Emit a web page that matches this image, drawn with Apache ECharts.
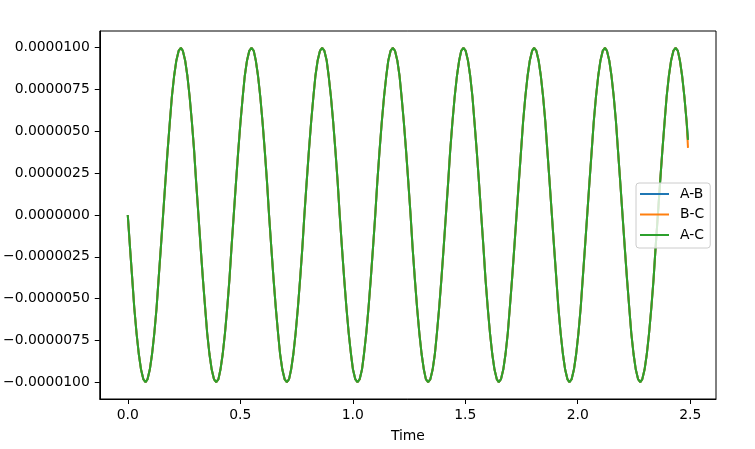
<!DOCTYPE html>
<html>
<head>
<meta charset="utf-8">
<script src="https://cdn.jsdelivr.net/npm/echarts@6/dist/echarts.min.js"></script>
<style>html,body{margin:0;padding:0;background:#fff}#c{width:755px;height:449px}</style>
</head>
<body>
<div id="c"></div>
<script>
const seriesNames = ['A-B', 'B-C', 'A-C'];
const xTicks = [0, 0.5, 1.0, 1.5, 2.0, 2.5];
const yTicks = [-1e-5, -7.5e-6, -5e-6, -2.5e-6, 0, 2.5e-6, 5e-6, 7.5e-6, 1e-5];

const time = [
0,0.010,0.020,0.029,0.039,0.049,0.059,0.069,0.079,0.088,0.098,0.108,0.118,0.128,0.137,0.147,0.157,0.167,0.177,0.187,0.196,0.206,0.216,0.226,0.236,0.245,0.255,0.265,0.275,0.285,0.295,0.304,
0.314,0.324,0.334,0.344,0.353,0.363,0.373,0.383,0.393,0.403,0.412,0.422,0.432,0.442,0.452,0.461,0.471,0.481,0.491,0.501,0.511,0.520,0.530,0.540,0.550,0.560,0.569,0.579,0.589,0.599,0.609,0.619,
0.628,0.638,0.648,0.658,0.668,0.677,0.687,0.697,0.707,0.717,0.726,0.736,0.746,0.756,0.766,0.776,0.785,0.795,0.805,0.815,0.825,0.834,0.844,0.854,0.864,0.874,0.884,0.893,0.903,0.913,0.923,0.933,
0.942,0.952,0.962,0.972,0.982,0.992,1.001,1.011,1.021,1.031,1.041,1.050,1.060,1.070,1.080,1.090,1.100,1.109,1.119,1.129,1.139,1.149,1.158,1.168,1.178,1.188,1.198,1.208,1.217,1.227,1.237,1.247,
1.257,1.266,1.276,1.286,1.296,1.306,1.316,1.325,1.335,1.345,1.355,1.365,1.374,1.384,1.394,1.404,1.414,1.424,1.433,1.443,1.453,1.463,1.473,1.482,1.492,1.502,1.512,1.522,1.532,1.541,1.551,1.561,
1.571,1.581,1.590,1.600,1.610,1.620,1.630,1.640,1.649,1.659,1.669,1.679,1.689,1.698,1.708,1.718,1.728,1.738,1.748,1.757,1.767,1.777,1.787,1.797,1.806,1.816,1.826,1.836,1.846,1.856,1.865,1.875,
1.885,1.895,1.905,1.914,1.924,1.934,1.944,1.954,1.963,1.973,1.983,1.993,2.003,2.013,2.022,2.032,2.042,2.052,2.062,2.071,2.081,2.091,2.101,2.111,2.121,2.130,2.140,2.150,2.160,2.170,2.179,2.189,
2.199,2.209,2.219,2.229,2.238,2.248,2.258,2.268,2.278,2.287,2.297,2.307,2.317,2.327,2.337,2.346,2.356,2.366,2.376,2.386,2.395,2.405,2.415,2.425,2.435,2.445,2.454,2.464,2.474,2.484,
2.490
];

const abValues = [
0,-1.95e-6,-3.83e-6,-5.56e-6,-7.07e-6,-8.31e-6,-9.24e-6,-9.81e-6,-1e-5,-9.81e-6,-9.24e-6,-8.31e-6,-7.07e-6,-5.56e-6,-3.83e-6,-1.95e-6,0,1.95e-6,3.83e-6,5.56e-6,7.07e-6,8.31e-6,9.24e-6,9.81e-6,1e-5,9.81e-6,9.24e-6,8.31e-6,7.07e-6,5.56e-6,3.83e-6,1.95e-6,
0,-1.95e-6,-3.83e-6,-5.56e-6,-7.07e-6,-8.31e-6,-9.24e-6,-9.81e-6,-1e-5,-9.81e-6,-9.24e-6,-8.31e-6,-7.07e-6,-5.56e-6,-3.83e-6,-1.95e-6,0,1.95e-6,3.83e-6,5.56e-6,7.07e-6,8.31e-6,9.24e-6,9.81e-6,1e-5,9.81e-6,9.24e-6,8.31e-6,7.07e-6,5.56e-6,3.83e-6,1.95e-6,
0,-1.95e-6,-3.83e-6,-5.56e-6,-7.07e-6,-8.31e-6,-9.24e-6,-9.81e-6,-1e-5,-9.81e-6,-9.24e-6,-8.31e-6,-7.07e-6,-5.56e-6,-3.83e-6,-1.95e-6,0,1.95e-6,3.83e-6,5.56e-6,7.07e-6,8.31e-6,9.24e-6,9.81e-6,1e-5,9.81e-6,9.24e-6,8.31e-6,7.07e-6,5.56e-6,3.83e-6,1.95e-6,
0,-1.95e-6,-3.83e-6,-5.56e-6,-7.07e-6,-8.31e-6,-9.24e-6,-9.81e-6,-1e-5,-9.81e-6,-9.24e-6,-8.31e-6,-7.07e-6,-5.56e-6,-3.83e-6,-1.95e-6,0,1.95e-6,3.83e-6,5.56e-6,7.07e-6,8.31e-6,9.24e-6,9.81e-6,1e-5,9.81e-6,9.24e-6,8.31e-6,7.07e-6,5.56e-6,3.83e-6,1.95e-6,
0,-1.95e-6,-3.83e-6,-5.56e-6,-7.07e-6,-8.31e-6,-9.24e-6,-9.81e-6,-1e-5,-9.81e-6,-9.24e-6,-8.31e-6,-7.07e-6,-5.56e-6,-3.83e-6,-1.95e-6,0,1.95e-6,3.83e-6,5.56e-6,7.07e-6,8.31e-6,9.24e-6,9.81e-6,1e-5,9.81e-6,9.24e-6,8.31e-6,7.07e-6,5.56e-6,3.83e-6,1.95e-6,
0,-1.95e-6,-3.83e-6,-5.56e-6,-7.07e-6,-8.31e-6,-9.24e-6,-9.81e-6,-1e-5,-9.81e-6,-9.24e-6,-8.31e-6,-7.07e-6,-5.56e-6,-3.83e-6,-1.95e-6,0,1.95e-6,3.83e-6,5.56e-6,7.07e-6,8.31e-6,9.24e-6,9.81e-6,1e-5,9.81e-6,9.24e-6,8.31e-6,7.07e-6,5.56e-6,3.83e-6,1.95e-6,
0,-1.95e-6,-3.83e-6,-5.56e-6,-7.07e-6,-8.31e-6,-9.24e-6,-9.81e-6,-1e-5,-9.81e-6,-9.24e-6,-8.31e-6,-7.07e-6,-5.56e-6,-3.83e-6,-1.95e-6,0,1.95e-6,3.83e-6,5.56e-6,7.07e-6,8.31e-6,9.24e-6,9.81e-6,1e-5,9.81e-6,9.24e-6,8.31e-6,7.07e-6,5.56e-6,3.83e-6,1.95e-6,
0,-1.95e-6,-3.83e-6,-5.56e-6,-7.07e-6,-8.31e-6,-9.24e-6,-9.81e-6,-1e-5,-9.81e-6,-9.24e-6,-8.31e-6,-7.07e-6,-5.56e-6,-3.83e-6,-1.95e-6,0,1.95e-6,3.83e-6,5.56e-6,7.07e-6,8.31e-6,9.24e-6,9.81e-6,1e-5,9.81e-6,9.24e-6,8.31e-6,7.07e-6,5.56e-6,
4.49e-6
];

const bcValues = [
0,-1.95e-6,-3.83e-6,-5.56e-6,-7.07e-6,-8.31e-6,-9.24e-6,-9.81e-6,-1e-5,-9.81e-6,-9.24e-6,-8.31e-6,-7.07e-6,-5.56e-6,-3.83e-6,-1.95e-6,0,1.95e-6,3.83e-6,5.56e-6,7.07e-6,8.31e-6,9.24e-6,9.81e-6,1e-5,9.81e-6,9.24e-6,8.31e-6,7.07e-6,5.56e-6,3.83e-6,1.95e-6,
0,-1.95e-6,-3.83e-6,-5.56e-6,-7.07e-6,-8.31e-6,-9.24e-6,-9.81e-6,-1e-5,-9.81e-6,-9.24e-6,-8.31e-6,-7.07e-6,-5.56e-6,-3.83e-6,-1.95e-6,0,1.95e-6,3.83e-6,5.56e-6,7.07e-6,8.31e-6,9.24e-6,9.81e-6,1e-5,9.81e-6,9.24e-6,8.31e-6,7.07e-6,5.56e-6,3.83e-6,1.95e-6,
0,-1.95e-6,-3.83e-6,-5.56e-6,-7.07e-6,-8.31e-6,-9.24e-6,-9.81e-6,-1e-5,-9.81e-6,-9.24e-6,-8.31e-6,-7.07e-6,-5.56e-6,-3.83e-6,-1.95e-6,0,1.95e-6,3.83e-6,5.56e-6,7.07e-6,8.31e-6,9.24e-6,9.81e-6,1e-5,9.81e-6,9.24e-6,8.31e-6,7.07e-6,5.56e-6,3.83e-6,1.95e-6,
0,-1.95e-6,-3.83e-6,-5.56e-6,-7.07e-6,-8.31e-6,-9.24e-6,-9.81e-6,-1e-5,-9.81e-6,-9.24e-6,-8.31e-6,-7.07e-6,-5.56e-6,-3.83e-6,-1.95e-6,0,1.95e-6,3.83e-6,5.56e-6,7.07e-6,8.31e-6,9.24e-6,9.81e-6,1e-5,9.81e-6,9.24e-6,8.31e-6,7.07e-6,5.56e-6,3.83e-6,1.95e-6,
0,-1.95e-6,-3.83e-6,-5.56e-6,-7.07e-6,-8.31e-6,-9.24e-6,-9.81e-6,-1e-5,-9.81e-6,-9.24e-6,-8.31e-6,-7.07e-6,-5.56e-6,-3.83e-6,-1.95e-6,0,1.95e-6,3.83e-6,5.56e-6,7.07e-6,8.31e-6,9.24e-6,9.81e-6,1e-5,9.81e-6,9.24e-6,8.31e-6,7.07e-6,5.56e-6,3.83e-6,1.95e-6,
0,-1.95e-6,-3.83e-6,-5.56e-6,-7.07e-6,-8.31e-6,-9.24e-6,-9.81e-6,-1e-5,-9.81e-6,-9.24e-6,-8.31e-6,-7.07e-6,-5.56e-6,-3.83e-6,-1.95e-6,0,1.95e-6,3.83e-6,5.56e-6,7.07e-6,8.31e-6,9.24e-6,9.81e-6,1e-5,9.81e-6,9.24e-6,8.31e-6,7.07e-6,5.56e-6,3.83e-6,1.95e-6,
0,-1.95e-6,-3.83e-6,-5.56e-6,-7.07e-6,-8.31e-6,-9.24e-6,-9.81e-6,-1e-5,-9.81e-6,-9.24e-6,-8.31e-6,-7.07e-6,-5.56e-6,-3.83e-6,-1.95e-6,0,1.95e-6,3.83e-6,5.56e-6,7.07e-6,8.31e-6,9.24e-6,9.81e-6,1e-5,9.81e-6,9.24e-6,8.31e-6,7.07e-6,5.56e-6,3.83e-6,1.95e-6,
0,-1.95e-6,-3.83e-6,-5.56e-6,-7.07e-6,-8.31e-6,-9.24e-6,-9.81e-6,-1e-5,-9.81e-6,-9.24e-6,-8.31e-6,-7.07e-6,-5.56e-6,-3.83e-6,-1.95e-6,0,1.95e-6,3.83e-6,5.56e-6,7.07e-6,8.31e-6,9.24e-6,9.81e-6,1e-5,9.81e-6,9.24e-6,8.31e-6,7.07e-6,5.56e-6,
4.01e-6
];

const acValues = [
0,-1.95e-6,-3.83e-6,-5.56e-6,-7.07e-6,-8.31e-6,-9.24e-6,-9.81e-6,-1e-5,-9.81e-6,-9.24e-6,-8.31e-6,-7.07e-6,-5.56e-6,-3.83e-6,-1.95e-6,0,1.95e-6,3.83e-6,5.56e-6,7.07e-6,8.31e-6,9.24e-6,9.81e-6,1e-5,9.81e-6,9.24e-6,8.31e-6,7.07e-6,5.56e-6,3.83e-6,1.95e-6,
0,-1.95e-6,-3.83e-6,-5.56e-6,-7.07e-6,-8.31e-6,-9.24e-6,-9.81e-6,-1e-5,-9.81e-6,-9.24e-6,-8.31e-6,-7.07e-6,-5.56e-6,-3.83e-6,-1.95e-6,0,1.95e-6,3.83e-6,5.56e-6,7.07e-6,8.31e-6,9.24e-6,9.81e-6,1e-5,9.81e-6,9.24e-6,8.31e-6,7.07e-6,5.56e-6,3.83e-6,1.95e-6,
0,-1.95e-6,-3.83e-6,-5.56e-6,-7.07e-6,-8.31e-6,-9.24e-6,-9.81e-6,-1e-5,-9.81e-6,-9.24e-6,-8.31e-6,-7.07e-6,-5.56e-6,-3.83e-6,-1.95e-6,0,1.95e-6,3.83e-6,5.56e-6,7.07e-6,8.31e-6,9.24e-6,9.81e-6,1e-5,9.81e-6,9.24e-6,8.31e-6,7.07e-6,5.56e-6,3.83e-6,1.95e-6,
0,-1.95e-6,-3.83e-6,-5.56e-6,-7.07e-6,-8.31e-6,-9.24e-6,-9.81e-6,-1e-5,-9.81e-6,-9.24e-6,-8.31e-6,-7.07e-6,-5.56e-6,-3.83e-6,-1.95e-6,0,1.95e-6,3.83e-6,5.56e-6,7.07e-6,8.31e-6,9.24e-6,9.81e-6,1e-5,9.81e-6,9.24e-6,8.31e-6,7.07e-6,5.56e-6,3.83e-6,1.95e-6,
0,-1.95e-6,-3.83e-6,-5.56e-6,-7.07e-6,-8.31e-6,-9.24e-6,-9.81e-6,-1e-5,-9.81e-6,-9.24e-6,-8.31e-6,-7.07e-6,-5.56e-6,-3.83e-6,-1.95e-6,0,1.95e-6,3.83e-6,5.56e-6,7.07e-6,8.31e-6,9.24e-6,9.81e-6,1e-5,9.81e-6,9.24e-6,8.31e-6,7.07e-6,5.56e-6,3.83e-6,1.95e-6,
0,-1.95e-6,-3.83e-6,-5.56e-6,-7.07e-6,-8.31e-6,-9.24e-6,-9.81e-6,-1e-5,-9.81e-6,-9.24e-6,-8.31e-6,-7.07e-6,-5.56e-6,-3.83e-6,-1.95e-6,0,1.95e-6,3.83e-6,5.56e-6,7.07e-6,8.31e-6,9.24e-6,9.81e-6,1e-5,9.81e-6,9.24e-6,8.31e-6,7.07e-6,5.56e-6,3.83e-6,1.95e-6,
0,-1.95e-6,-3.83e-6,-5.56e-6,-7.07e-6,-8.31e-6,-9.24e-6,-9.81e-6,-1e-5,-9.81e-6,-9.24e-6,-8.31e-6,-7.07e-6,-5.56e-6,-3.83e-6,-1.95e-6,0,1.95e-6,3.83e-6,5.56e-6,7.07e-6,8.31e-6,9.24e-6,9.81e-6,1e-5,9.81e-6,9.24e-6,8.31e-6,7.07e-6,5.56e-6,3.83e-6,1.95e-6,
0,-1.95e-6,-3.83e-6,-5.56e-6,-7.07e-6,-8.31e-6,-9.24e-6,-9.81e-6,-1e-5,-9.81e-6,-9.24e-6,-8.31e-6,-7.07e-6,-5.56e-6,-3.83e-6,-1.95e-6,0,1.95e-6,3.83e-6,5.56e-6,7.07e-6,8.31e-6,9.24e-6,9.81e-6,1e-5,9.81e-6,9.24e-6,8.31e-6,7.07e-6,5.56e-6,
4.49e-6
];

const colors = ['#1f77b4', '#ff7f0e', '#2ca02c'];
const valueSets = [abValues, bcValues, acValues];
const FONT = 'DejaVu Sans';

const chart = echarts.init(document.getElementById('c'), null, {renderer: 'canvas'});
chart.setOption({
  animation: false,
  backgroundColor: '#ffffff',
  textStyle: {fontFamily: FONT},
  grid: {left: 99, right: 39, top: 31, bottom: 50, show: true, borderColor: '#000', borderWidth: 1, backgroundColor: 'transparent'},
  xAxis: {
    type: 'value', min: -0.1245, max: 2.6145,
    name: 'Time', nameLocation: 'middle', nameGap: 30,
    nameTextStyle: {color: '#000', fontSize: 13.9, fontFamily: FONT},
    axisLine: {show: true, onZero: false, lineStyle: {color: '#000', width: 1}},
    axisTick: {show: true, length: 5, inside: false, customValues: xTicks, lineStyle: {color: '#000', width: 1}},
    axisLabel: {customValues: xTicks, color: '#000', fontSize: 13.9, fontFamily: FONT, margin: 9,
      formatter: v => v.toFixed(1)},
    splitLine: {show: false}
  },
  yAxis: {
    type: 'value', min: -1.1e-5, max: 1.1e-5,
    axisLine: {show: true, onZero: false, lineStyle: {color: '#000', width: 1}},
    axisTick: {show: true, length: 5, inside: false, customValues: yTicks, lineStyle: {color: '#000', width: 1}},
    axisLabel: {customValues: yTicks, color: '#000', fontSize: 13.9, fontFamily: FONT, margin: 10,
      formatter: v => (Math.abs(v) < 1e-12 ? 0 : v).toFixed(7).replace('-', '\u2212')},
    splitLine: {show: false}
  },
  legend: {
    orient: 'vertical', left: 636, top: 183,
    data: seriesNames,
    icon: 'rect',
    itemWidth: 29, itemHeight: 2, itemGap: 4.5,
    padding: [3, 6, 5, 4],
    backgroundColor: 'rgba(255,255,255,0.8)',
    borderColor: '#cccccc', borderWidth: 1, borderRadius: 3,
    textStyle: {color: '#000', fontSize: 13.9, fontFamily: FONT, padding: [0, 0, 0, 6], lineHeight: 16}
  },
  series: seriesNames.map((name, s) => ({
    name: name, type: 'line', showSymbol: false, symbol: 'none',
    color: colors[s],
    lineStyle: {color: colors[s], width: 2},
    data: time.map((t, i) => [t, valueSets[s][i]])
  }))
});
</script>
</body>
</html>
